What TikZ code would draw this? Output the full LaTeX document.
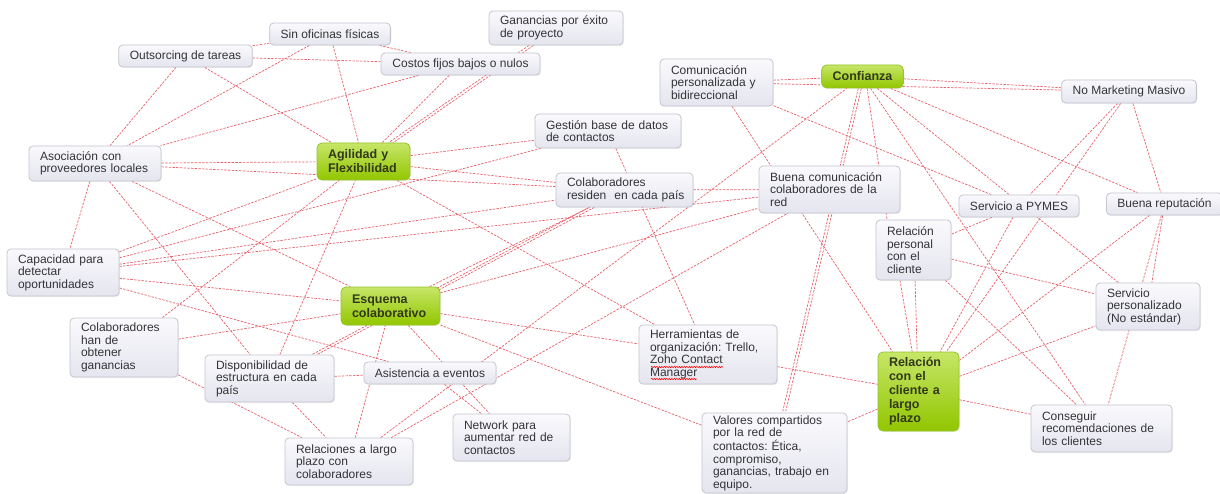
\documentclass[tikz,border=0pt]{standalone}
\usepackage{fontspec}
\setmainfont{Liberation Sans}
\frenchspacing
\usetikzlibrary{backgrounds,shadows,decorations.pathmorphing}

\definecolor{boxtop}{RGB}{250,250,253}
\definecolor{boxbot}{RGB}{228,229,238}
\definecolor{boxline}{RGB}{196,197,207}
\definecolor{boxtext}{RGB}{52,52,56}
\definecolor{greentop}{RGB}{198,230,104}
\definecolor{greenbot}{RGB}{146,198,0}
\definecolor{greenline}{RGB}{150,196,40}
\definecolor{greentext}{RGB}{50,56,28}
\definecolor{relred}{RGB}{232,96,106}

\newcommand{\topicfont}{\fontsize{12}{12.5}\selectfont}
\newcommand{\themefont}{\fontsize{12.5}{14}\selectfont\bfseries}

\tikzset{
  topic/.style={draw=boxline, line width=0.8pt, rounded corners=4pt,
    top color=boxtop, bottom color=boxbot, text=boxtext, font=\topicfont,
    inner xsep=11pt, inner ysep=0pt, align=left,
    drop shadow={opacity=0.12, shadow xshift=1pt, shadow yshift=-1pt}},
  theme/.style={draw=greenline, line width=0.8pt, rounded corners=5pt,
    top color=greentop, bottom color=greenbot, text=greentext, font=\themefont,
    inner xsep=11pt, inner ysep=0pt, align=left,
    drop shadow={opacity=0.12, shadow xshift=1pt, shadow yshift=-1pt}},
  rel/.style={draw=relred, line width=0.7pt, dash pattern=on 2.4pt off 1.3pt}
}

\begin{document}
\begin{tikzpicture}[x=1pt, y=-1pt]
  \useasboundingbox (0,0) rectangle (1220,494);

  % topics
  \node[topic, minimum width=120pt, minimum height=22pt] (sinof) at (330,34) {Sin oficinas físicas};
  \node[topic, minimum width=131pt, minimum height=22pt] (outs) at (185.5,56) {Outsorcing de tareas};
  \node[topic, text width=112pt, minimum height=34pt] (ganan) at (556,28) {Ganancias por éxito\\de proyecto};
  \node[topic, minimum width=159pt, minimum height=22pt] (costos) at (460.5,64) {Costos fijos bajos o nulos};
  \node[topic, text width=91pt, minimum height=47pt] (compers) at (716.5,82.5) {Comunicación\\personalizada y\\bidireccional};
  \node[topic, minimum width=132pt, minimum height=23pt] (nomark) at (1129,91.5) {No Marketing Masivo};
  \node[topic, text width=124pt, minimum height=34pt] (gestion) at (608,131) {Gestión base de datos\\de contactos};
  \node[topic, text width=110pt, minimum height=35pt] (asoc) at (95,163.5) {Asociación con\\proveedores locales};
  \node[topic, text width=115pt, minimum height=34pt] (colres) at (624.5,190) {Colaboradores\\\mbox{residen\ \ en cada país}};
  \node[topic, text width=119pt, minimum height=47pt] (buenacom) at (829.5,189.5) {Buena comunicación\\colaboradores de la\\red};
  \node[topic, minimum width=114pt, minimum height=22pt] (pymes) at (1019,206) {Servicio a PYMES};
  \node[topic, minimum width=113pt, minimum height=22pt] (buenarep) at (1164.5,204) {Buena reputación};
  \node[topic, text width=53pt, minimum height=60pt] (relpers) at (913.5,250) {Relación\\personal\\con el\\cliente};
  \node[topic, text width=90pt, minimum height=47pt] (capac) at (63,272.5) {Capacidad para\\detectar\\oportunidades};
  \node[topic, text width=82pt, minimum height=47pt] (servpers) at (1148,306.5) {Servicio\\personalizado\\(No estándar)};
  \node[topic, text width=86pt, minimum height=59pt] (colgan) at (124,347.5) {Colaboradores\\han de\\obtener\\ganancias};
  \node[topic, text width=116pt, minimum height=59pt] (herram) at (708,354.5) {Herramientas de\\organización: Trello,\\Zoho Contact\\Manager};
  \node[topic, text width=107pt, minimum height=47pt] (dispon) at (269.5,378.5) {Disponibilidad de\\estructura en cada\\país};
  \node[topic, minimum width=130pt, minimum height=22pt] (asist) at (430,373) {Asistencia a eventos};
  \node[topic, text width=119pt, minimum height=47pt] (conseg) at (1101.5,428.5) {Conseguir\\recomendaciones de\\los clientes};
  \node[topic, text width=95pt, minimum height=47pt] (network) at (511.5,437.5) {Network para\\aumentar red de\\contactos};
  \node[topic, text width=106pt, minimum height=47pt] (relcol) at (349,461.5) {Relaciones a largo\\plazo con\\colaboradores};
  \node[topic, text width=123pt, minimum height=80pt] (valores) at (774.5,453) {Valores compartidos\\por la red de\\contactos: Ética,\\compromiso,\\ganancias, trabajo en\\equipo.};

  % main themes
  \node[theme, minimum width=81pt, minimum height=23pt] (confianza) at (862.5,76.5) {Confianza};
  \node[theme, text width=71pt, minimum height=37pt] (agil) at (363.5,161.5) {Agilidad y\\Flexibilidad};
  \node[theme, text width=77pt, minimum height=38pt] (esquema) at (390.5,306) {Esquema\\colaborativo};
  \node[theme, text width=59pt, minimum height=79pt] (relargo) at (918.5,391.5) {Relación\\con el\\cliente a\\largo\\plazo};

  % spell check marks
  \draw[red, line width=0.5pt, decorate, decoration={snake, amplitude=0.7pt, segment length=2.5pt}] (651,367) -- (723,367);
  \draw[red, line width=0.5pt, decorate, decoration={snake, amplitude=0.7pt, segment length=2.5pt}] (651,379) -- (697,379);

  \begin{pgfonlayer}{background}
    \fill[white] (0,0) rectangle (1220,494);
    % relations
    \draw[rel] (outs) -- (sinof);
    \draw[rel] (outs) -- (costos);
    \draw[rel] (outs) -- (agil);
    \draw[rel] (outs) -- (asoc);
    \draw[rel] (sinof) -- (asoc);
    \draw[rel] (sinof) -- (agil);
    \draw[rel] (sinof) -- (costos);
    \draw[rel] (costos) -- (asoc);
    \draw[rel] (costos) -- (agil);
    \draw[rel, transform canvas={xshift=-2pt}] (ganan) -- (agil);
    \draw[rel, transform canvas={xshift=2.5pt}] (ganan) -- (agil);
    \draw[rel] (asoc) -- (agil);
    \draw[rel] (asoc) -- (colres);
    \draw[rel] (asoc) -- (capac);
    \draw[rel] (asoc) -- (dispon);
    \draw[rel] (asoc) -- (esquema);
    \draw[rel] (capac) -- (agil);
    \draw[rel] (capac) -- (gestion);
    \draw[rel] (capac) -- (colres);
    \draw[rel] (capac) -- (buenacom);
    \draw[rel] (capac) -- (esquema);
    \draw[rel] (capac) -- (asist);
    \draw[rel] (colgan) -- (agil);
    \draw[rel] (colgan) -- (esquema);
    \draw[rel] (colgan) -- (relcol);
    \draw[rel] (dispon) -- (agil);
    \draw[rel, transform canvas={xshift=-2.5pt}] (colres) -- (dispon);
    \draw[rel, transform canvas={xshift=2.5pt}] (colres) -- (dispon);
    \draw[rel] (esquema) -- (colres);
    \draw[rel] (dispon) -- (asist);
    \draw[rel] (dispon) -- (relcol);
    \draw[rel] (relcol) -- (esquema);
    \draw[rel] (relcol) -- (confianza);
    \draw[rel] (relcol) -- (buenacom);
    \draw[rel] (esquema) -- (herram);
    \draw[rel] (esquema) -- (valores);
    \draw[rel] (esquema) -- (network);
    \draw[rel] (asist) -- (network);
    \draw[rel] (esquema) -- (buenacom);
    \draw[rel] (agil) -- (herram);
    \draw[rel] (agil) -- (gestion);
    \draw[rel] (agil) -- (colres);
    \draw[rel] (gestion) -- (herram);
    \draw[rel] (colres) -- (buenacom);
    \draw[rel] (compers) -- (confianza);
    \draw[rel] (confianza) -- (nomark);
    \draw[rel] (compers) -- (nomark);
    \draw[rel] (compers) -- (relargo);
    \draw[rel] (compers) -- (pymes);
    \draw[rel, transform canvas={xshift=-1.5pt}] (confianza) -- (valores);
    \draw[rel, transform canvas={xshift=1.5pt}] (confianza) -- (valores);
    \draw[rel] (confianza.291) -- (relpers.131);
    \draw[rel] (confianza) -- (conseg);
    \draw[rel] (confianza) -- (servpers);
    \draw[rel] (confianza) -- (buenarep);
    \draw[rel] (nomark) -- (pymes);
    \draw[rel] (nomark) -- (relargo);
    \draw[rel] (nomark) -- (buenarep);
    \draw[rel] (pymes) -- (relpers);
    \draw[rel] (pymes) -- (relargo);
    \draw[rel] (buenarep) -- (relargo);
    \draw[rel] (buenarep) -- (servpers);
    \draw[rel] (buenarep) -- (conseg);
    \draw[rel] (relpers) -- (servpers);
    \draw[rel] (relpers.246) -- (relargo.99);
    \draw[rel] (relpers.273) -- (relargo.92);
    \draw[rel] (relpers) -- (conseg);
    \draw[rel] (herram) -- (relargo);
    \draw[rel] (relargo) -- (valores);
    \draw[rel] (relargo) -- (conseg);
    \draw[rel] (relargo) -- (servpers);
  \end{pgfonlayer}
\end{tikzpicture}
\end{document}
